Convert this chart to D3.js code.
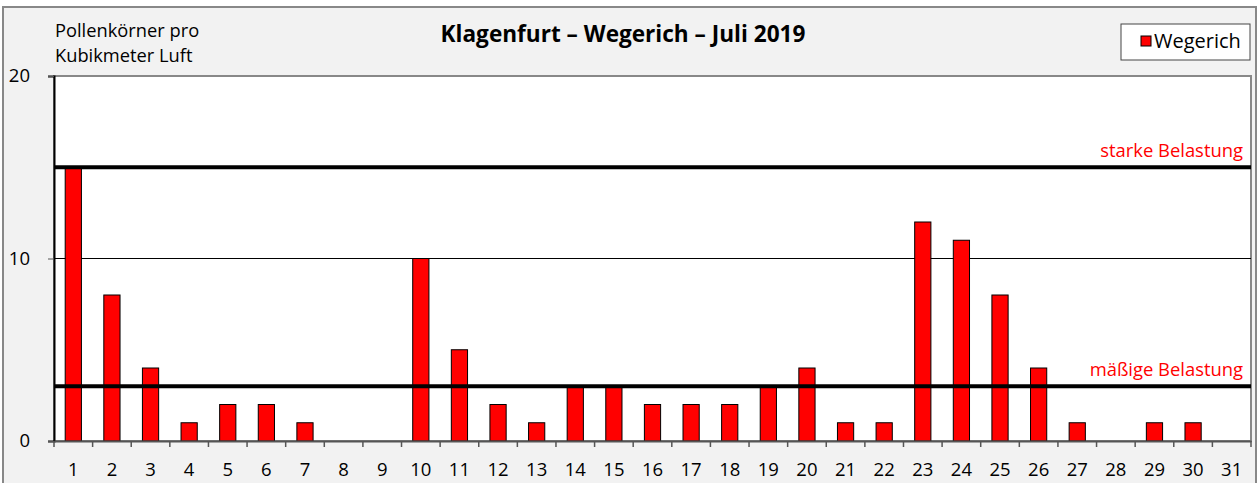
<!DOCTYPE html>
<html><head><meta charset="utf-8">
<script src="https://cdn.jsdelivr.net/npm/d3@7"></script>
<style>body{margin:0;background:#fff}svg{display:block}text{font-family:"Open Sans",sans-serif}</style>
</head><body><svg id="c" width="1258" height="483"></svg>
<script>
const days = d3.range(1, 32).map(String);
const wegerich = [15,8,4,1,2,2,1,0,0,10,5,2,1,3,3,2,2,2,3,4,1,1,12,11,8,4,1,0,1,1,0];
const yTicks = [0, 10, 20];
const thresholds = [{v:15, label:"starke Belastung"}, {v:3, label:"mäßige Belastung"}];
const title = "Klagenfurt – Wegerich – Juli 2019";
const yTitle = ["Pollenkörner pro", "Kubikmeter Luft"];
const seriesName = "Wegerich";

const svg = d3.select("#c");
const W = 1258, H = 483;
const m = {l:54, r:1251, t:76, b:441};
const FONT = "Open Sans";
svg.append("rect").attr("x",3).attr("y",7).attr("width",W-5).attr("height",H).attr("fill","#f2f2f2").attr("stroke","#888").attr("stroke-width",2);

const x = d3.scaleBand().domain(days).range([m.l, m.r]).paddingInner(0.58).paddingOuter(0.29);
const y = d3.scaleLinear().domain([0,20]).range([m.b, m.t]);

svg.append("rect").attr("x",m.l).attr("y",m.t).attr("width",m.r-m.l).attr("height",m.b-m.t).attr("fill","#fff").attr("stroke","#888").attr("stroke-width",2);

svg.append("line").attr("x1",m.l).attr("x2",m.r).attr("y1",y(10)).attr("y2",y(10)).attr("stroke","#000").attr("stroke-width",1);

svg.selectAll(".bar").data(wegerich).enter().append("rect")
  .attr("x",(d,i)=>x(days[i])).attr("width",x.bandwidth())
  .attr("y",d=>y(d)).attr("height",d=>y(0)-y(d))
  .attr("fill","#ff0000").attr("stroke","#000").attr("stroke-width",1);

thresholds.forEach(t=>{
  svg.append("line").attr("x1",m.l).attr("x2",m.r).attr("y1",y(t.v)).attr("y2",y(t.v)).attr("stroke","#000").attr("stroke-width",4);
  svg.append("text").attr("x",1243).attr("y",y(t.v)-10).attr("text-anchor","end").attr("fill","#ff0000").attr("font-size",18.4).text(t.label);
});

const ya = svg.append("g").attr("transform",`translate(${m.l},0)`).call(d3.axisLeft(y).tickValues(yTicks).tickSize(6).tickPadding(18));
ya.select(".domain").attr("stroke","#000").attr("stroke-width",2);
ya.selectAll(".tick line").attr("stroke","#555");
ya.selectAll("text").attr("font-size",18.5).attr("fill","#000").attr("font-family",FONT);

const xa = svg.append("g").attr("transform",`translate(0,${m.b})`).call(d3.axisBottom(x).tickSize(0).tickPadding(22));
xa.select(".domain").attr("stroke","#555").attr("stroke-width",2);
xa.selectAll("text").attr("font-size",18.5).attr("fill","#000").attr("font-family",FONT);
svg.append("g").selectAll("line").data(d3.range(32)).enter().append("line")
  .attr("x1",i=>m.l + i*(m.r-m.l)/31).attr("x2",i=>m.l + i*(m.r-m.l)/31)
  .attr("y1",m.b).attr("y2",m.b+6).attr("stroke","#555").attr("stroke-width",1.5);

svg.append("text").attr("x",623).attr("y",42).attr("text-anchor","middle").attr("font-weight","bold").attr("font-size",22.6).text(title);
yTitle.forEach((t,i)=>svg.append("text").attr("x",55).attr("y",37+i*25).attr("font-size",18.3).text(t));

svg.append("rect").attr("x",1121).attr("y",24).attr("width",129).attr("height",36).attr("fill","#fff").attr("stroke","#444").attr("stroke-width",1);
svg.append("rect").attr("x",1141).attr("y",36).attr("width",10).attr("height",10).attr("fill","#ff0000").attr("stroke","#000");
svg.append("text").attr("x",1154).attr("y",48).attr("font-size",20).text(seriesName);
</script></body></html>
